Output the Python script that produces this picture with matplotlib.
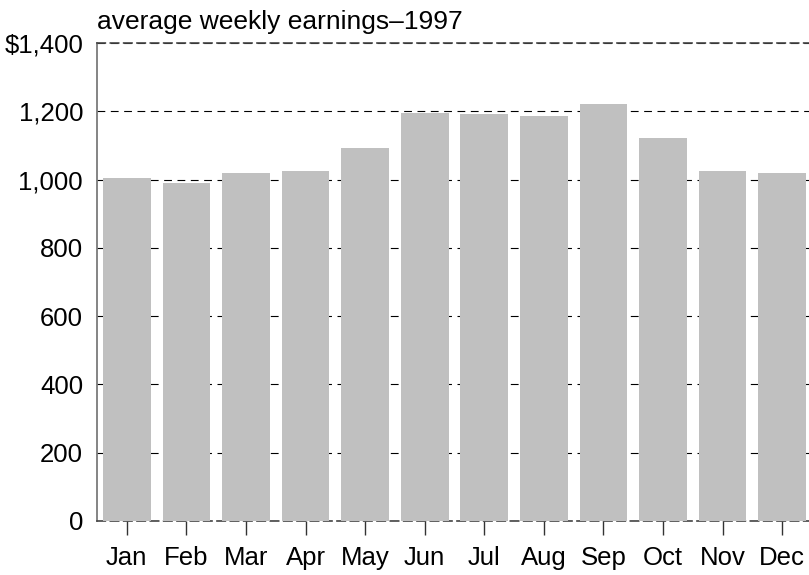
import matplotlib
matplotlib.use("Agg")
import matplotlib.pyplot as plt
from matplotlib.ticker import FuncFormatter

# average weekly earnings, 1997
meses = ["Jan", "Feb", "Mar", "Apr", "May", "Jun", "Jul", "Aug", "Sep", "Oct", "Nov", "Dec"]
ganancias = [1005, 990, 1019, 1025, 1093, 1195, 1192, 1186, 1221, 1122, 1025, 1019]
y_ticks = [0, 200, 400, 600, 800, 1000, 1200, 1400]

plt.rcParams["font.family"] = ["Liberation Sans", "DejaVu Sans"]

fig = plt.figure(figsize=(8.09, 5.75), dpi=100)
ax = fig.add_axes([97 / 809, 54 / 575, 715 / 809, 478 / 575])

ax.bar(range(len(meses)), ganancias, width=0.8, color="#c0c0c0", zorder=3)

ax.set_xlim(-0.5, len(meses) - 0.5)
ax.set_ylim(0, 1400)

# grid punteado
ax.set_yticks(y_ticks)
ax.yaxis.grid(True, color="black", linestyle=(0, (7, 5)), linewidth=0.8, zorder=0)
ax.yaxis.set_major_formatter(FuncFormatter(lambda v, p: "${:,.0f}".format(v) if v == 1400 else "{:,.0f}".format(v)))

ax.set_xticks(range(len(meses)))
ax.set_xticklabels(meses)

ax.tick_params(axis="y", length=0, labelsize=18.5, pad=10)
ax.tick_params(axis="x", length=10, width=1, color="#333333", labelsize=18.5, pad=8, direction="out")

ax.spines["right"].set_visible(False)
ax.spines["left"].set_color("#707070")
ax.spines["left"].set_linewidth(1.2)
for s in ["top", "bottom"]:
    ax.spines[s].set_color("#444444")
    ax.spines[s].set_linestyle((0, (5, 3)))
    ax.spines[s].set_linewidth(1.2)

ax.text(0, 1.018, "average weekly earnings\u20131997", transform=ax.transAxes,
        fontsize=19, ha="left", va="bottom")

fig.savefig("out.png", dpi=100)
